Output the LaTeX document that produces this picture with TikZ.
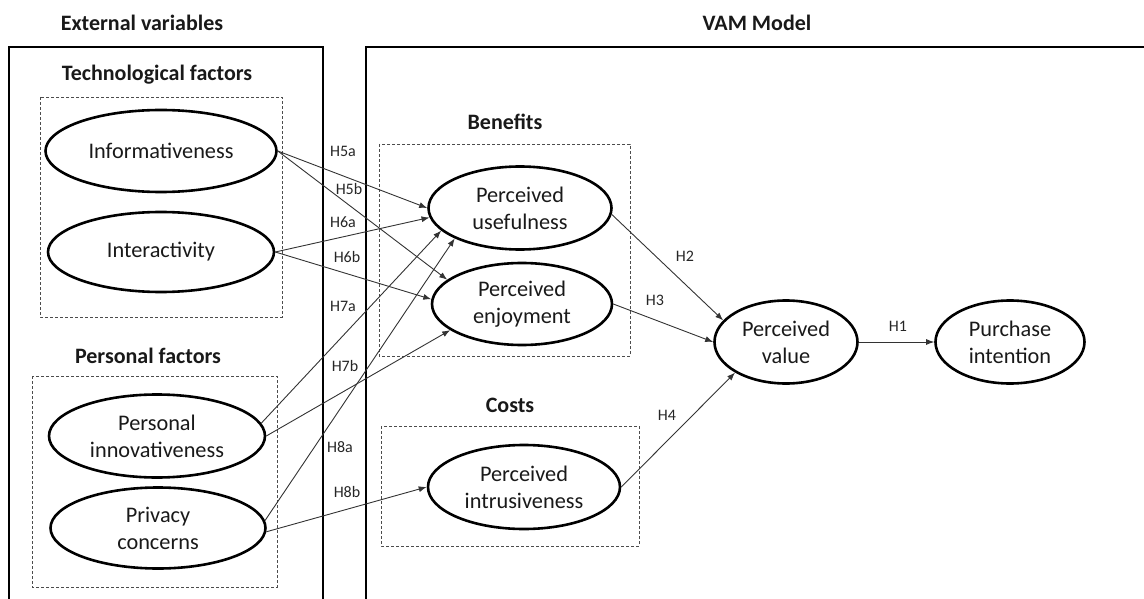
\documentclass[tikz,border=0pt]{standalone}
\usepackage{fontspec}
\setmainfont{Carlito}
\usetikzlibrary{shapes.geometric,arrows.meta}
\tikzset{
  var/.style={ellipse,draw=black,line width=2.6pt,inner sep=0pt,align=center,
    font=\fontsize{22.3}{27}\selectfont,text=black!90},
  title/.style={font=\fontsize{22}{24}\selectfont\bfseries,text=black!90,inner sep=0pt},
  hyp/.style={font=\fontsize{16}{18}\selectfont,text=black!85,inner sep=0pt},
  group/.style={draw=black!70,line width=0.8pt,dash pattern=on 3pt off 2pt},
  frame/.style={draw=black,line width=2.8pt},
  link/.style={draw=black!80,line width=0.9pt,-{Latex[length=8pt,width=6pt]}}
}
\begin{document}
\begin{tikzpicture}[x=1pt,y=-1pt]
\useasboundingbox (0,0) rectangle (1144,599);
% frames
\draw[frame] (9,600) -- (9,47) -- (323,47) -- (323,600);
\draw[frame] (366,600) -- (366,47) -- (1145,47);
% titles
\node[title] (tExt) at (142,23) {External variables};
\node[title] (tVam) at (757,23) {VAM Model};
\node[title] (tTech) at (157,75) {Technological factors};
\node[title] (tPers) at (148,356) {Personal factors};
\node[title] (tBen) at (505,122) {Benefits};
\node[title] (tCost) at (510,405) {Costs};
% dashed groups
\draw[group] (40,97) rectangle (282,317);
\draw[group] (32,376) rectangle (277,587);
\draw[group] (379,144) rectangle (630,356);
\draw[group] (381,426) rectangle (639,546);
% variables
\node[var,minimum width=231pt,minimum height=82pt] (inf) at (161,151) {Informativeness};
\node[var,minimum width=226pt,minimum height=80pt] (int) at (161,252) {Interactivity};
\node[var,minimum width=216pt,minimum height=83pt] (inn) at (157,436) {Personal\\innovativeness};
\node[var,minimum width=215pt,minimum height=81pt] (pri) at (158,528) {Privacy\\concerns};
\node[var,minimum width=183pt,minimum height=83pt] (pu) at (520,208) {Perceived\\usefulness};
\node[var,minimum width=180pt,minimum height=82pt] (pe) at (522,304) {Perceived\\enjoyment};
\node[var,minimum width=192pt,minimum height=84pt] (pit) at (524,487) {Perceived\\intrusiveness};
\node[var,minimum width=143pt,minimum height=83pt] (pv) at (786,342) {Perceived\\value};
\node[var,minimum width=149pt,minimum height=83pt] (pin) at (1010,342) {Purchase\\intention};
% connectors
\draw[link] (inf.east) -- (pu.180);
\draw[link] (inf.east) -- (pe.162);
\draw[link] (int.east) -- (pu.186);
\draw[link] (int.east) -- (pe.177);
\draw[link] (inn.7) -- (pu.196);
\draw[link] (inn.east) -- (pe.200);
\draw[link] (pri.4) -- (pu.205);
\draw[link] (pri.358) -- (pit.west);
\draw[link] (pu.356) -- (pv.161);
\draw[link] (pe.east) -- (pv.180);
\draw[link] (pit.east) -- (pv.211);
\draw[link] (pv.east) -- (pin.west);
% hypothesis labels
\node[hyp] (h5a) at (343,151) {H5a};
\node[hyp] (h5b) at (349,189) {H5b};
\node[hyp] (h6a) at (343,222) {H6a};
\node[hyp] (h6b) at (347,257) {H6b};
\node[hyp] (h7a) at (343,306) {H7a};
\node[hyp] (h7b) at (345,366) {H7b};
\node[hyp] (h8a) at (340,447) {H8a};
\node[hyp] (h8b) at (347,492) {H8b};
\node[hyp] (h2) at (685,256) {H2};
\node[hyp] (h3) at (655,300) {H3};
\node[hyp] (h4) at (667,415) {H4};
\node[hyp] (h1) at (898,326) {H1};
\end{tikzpicture}
\end{document}
